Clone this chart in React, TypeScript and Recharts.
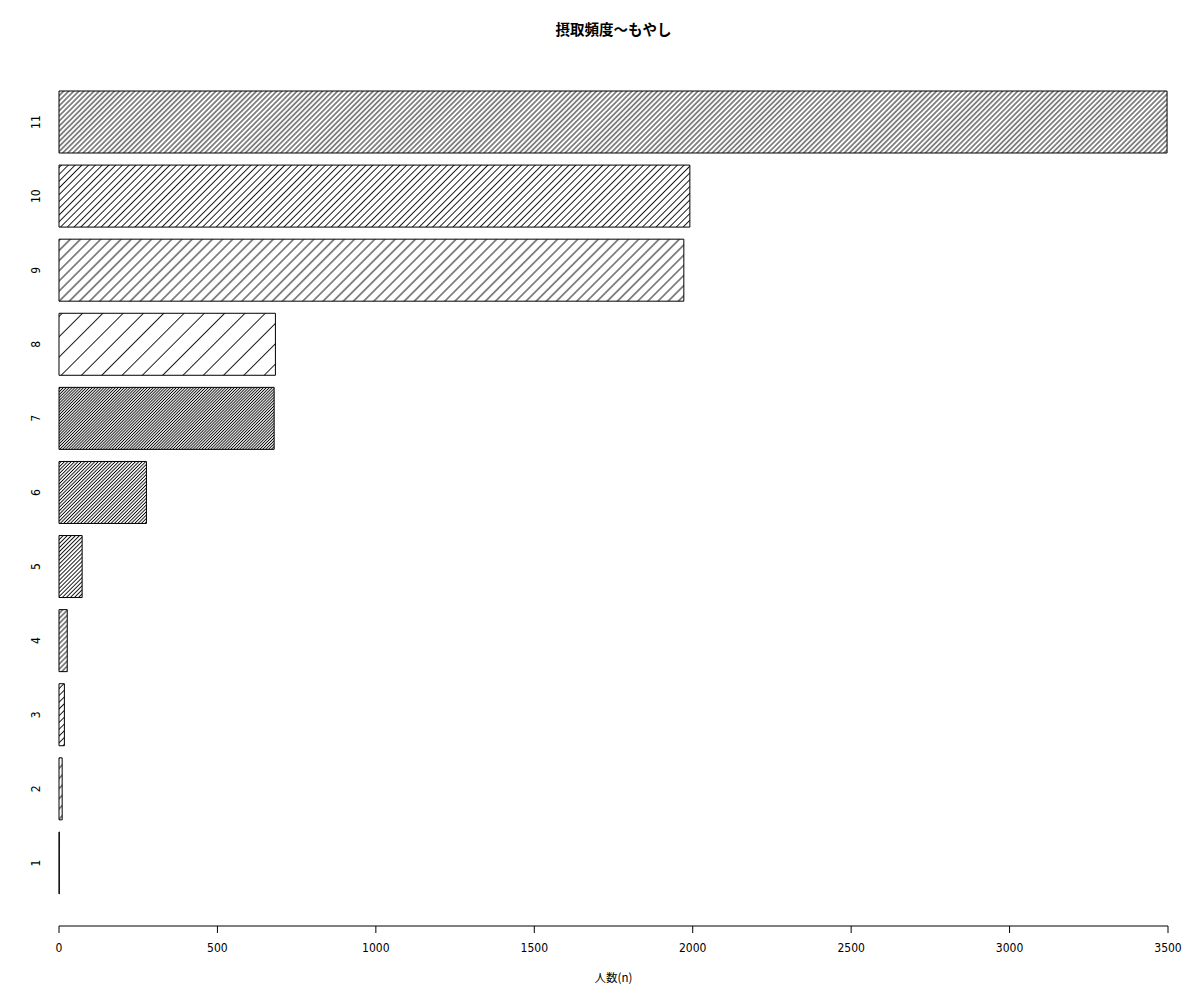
import React from "react";
import { BarChart, Bar, XAxis, YAxis, Cell } from "recharts";

// frequency categories (1 = lowest, 11 = highest) and respondent counts
const categories = ["1", "2", "3", "4", "5", "6", "7", "8", "9", "10", "11"];
const counts = [1, 10, 17, 26, 73, 276, 679, 683, 1972, 1991, 3497];
const xTicks = [0, 500, 1000, 1500, 2000, 2500, 3000, 3500];

const title = "摂取頻度〜もやし";
const xLabel = "人数(n)";

const FONT = '"Liberation Sans Narrow", "DejaVu Sans Condensed", "Liberation Sans", sans-serif';
const CJK = '"Noto Sans CJK JP", "Noto Sans", sans-serif';

const chartData = categories.map((c, i) => ({ label: c, n: counts[i] }));

// R-style hatching: density cycles 1..7, lines at 45deg
const hatchGap = (i: number) => 20.3 / ((i % 7) + 1) / Math.SQRT2;

function YTick(props: any) {
  const { x, y, payload } = props;
  return (
    <text
      x={x}
      y={y}
      transform={`rotate(-90, ${x}, ${y})`}
      textAnchor="middle"
      dominantBaseline="central"
      fontSize={12}
      fontFamily={FONT}
      fill="#000"
    >
      {payload.value}
    </text>
  );
}

export default function App() {
  return (
    <div style={{ position: "absolute", left: 0, top: 0, width: 1200, height: 1000, background: "#fff" }}>
      <div
        style={{
          position: "absolute",
          left: 59,
          top: 19,
          width: 1109,
          height: 20,
          lineHeight: "20px",
          textAlign: "center",
          fontFamily: CJK,
          fontWeight: "bold",
          fontSize: 14.5,
          color: "#000",
        }}
      >
        {title}
      </div>
      <BarChart
        width={1200}
        height={1000}
        data={chartData}
        layout="vertical"
        margin={{ top: 59, right: 32, left: 0, bottom: 0 }}
      >
        <defs>
          {categories.map((c, i) => {
            const g = hatchGap(i);
            return (
              <pattern
                key={c}
                id={`hatch${i}`}
                patternUnits="userSpaceOnUse"
                width={g}
                height={10}
                patternTransform="rotate(45)"
              >
                <rect x={0} y={0} width={g} height={10} fill="#fff" />
                <line x1={g / 2} y1={0} x2={g / 2} y2={10} stroke="#000" strokeWidth={0.9} />
              </pattern>
            );
          })}
        </defs>
        <XAxis
          type="number"
          domain={[0, 3500]}
          ticks={xTicks}
          height={74}
          tickSize={7}
          tickMargin={10}
          interval={0}
          stroke="#000"
          tick={{ fill: "#000", fontSize: 12, fontFamily: FONT }}
          axisLine={{ stroke: "#000" }}
          tickLine={{ stroke: "#000" }}
          label={{ value: xLabel, position: "insideBottom", offset: 18, fill: "#000", fontSize: 11.5, fontFamily: CJK }}
        />
        <YAxis
          type="category"
          dataKey="label"
          reversed
          width={59}
          axisLine={false}
          tickLine={false}
          tickMargin={17}
          padding={{ top: 26, bottom: 26 }}
          interval={0}
          tick={<YTick />}
        />
        <Bar dataKey="n" barSize={62} stroke="#000" strokeWidth={1} isAnimationActive={false}>
          {chartData.map((d, i) => (
            <Cell key={d.label} fill={`url(#hatch${i})`} />
          ))}
        </Bar>
      </BarChart>
    </div>
  );
}
